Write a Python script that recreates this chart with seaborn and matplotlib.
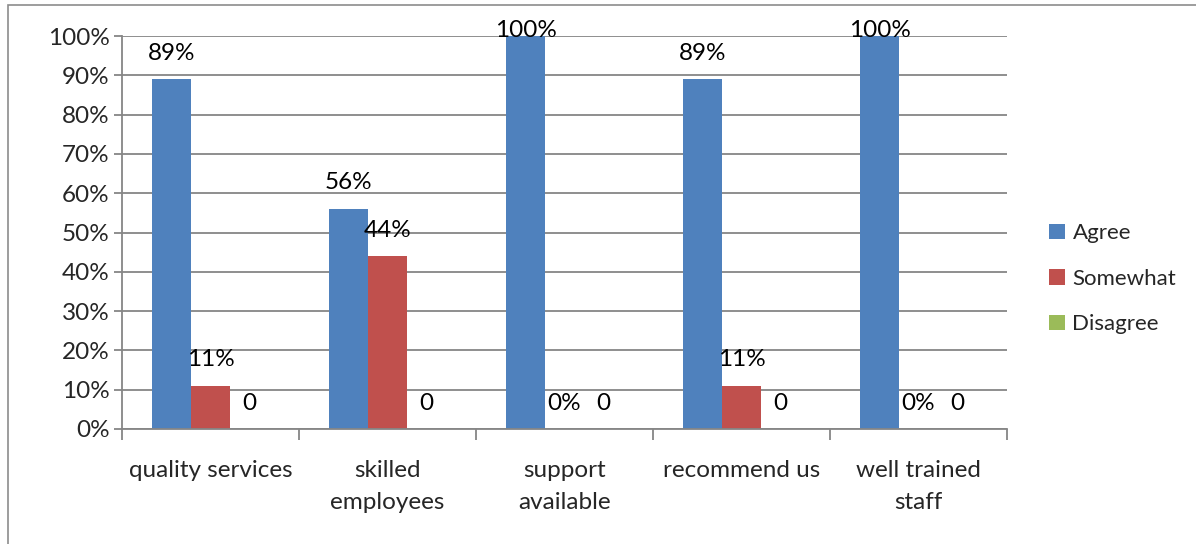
import matplotlib
matplotlib.use("Agg")
import matplotlib.pyplot as plt
import matplotlib.patches as mpatches
from matplotlib.ticker import FixedLocator, PercentFormatter
import seaborn as sns
import pandas as pd

categories = ["quality services", "skilled\nemployees", "support\navailable", "recommend us", "well trained\nstaff"]
series_names = ["Agree", "Somewhat", "Disagree"]
agree = [0.89, 0.56, 1.00, 0.89, 1.00]
somewhat = [0.11, 0.44, 0.00, 0.11, 0.00]
disagree = [0, 0, 0, 0, 0]
colors = ["#4F81BD", "#C0504D", "#9BBB59"]

sns.set_theme(style="white")
plt.rcParams["font.family"] = ["Lato", "DejaVu Sans"]

rows = []
for name, vals in zip(series_names, [agree, somewhat, disagree]):
    for c, v in zip(categories, vals):
        rows.append({"category": c, "series": name, "value": v})
df = pd.DataFrame(rows)

fig = plt.figure(figsize=(11.96, 5.44), dpi=100)
ax = fig.add_axes([0.102, 0.2114, 0.740, 0.7224])

sns.barplot(data=df, x="category", y="value", hue="series", order=categories,
            hue_order=series_names, palette=colors, width=0.66, ax=ax,
            saturation=1, errorbar=None, linewidth=0)

FS = 17.5
ax.set_ylim(0, 1.0)
ax.set_xlim(-0.5, 4.5)
ax.yaxis.set_major_locator(FixedLocator([i / 10 for i in range(11)]))
ax.yaxis.set_major_formatter(PercentFormatter(1.0, decimals=0))
ax.grid(axis="y", color="#868686", linewidth=1.3)
ax.set_axisbelow(True)
for s in ["top", "right"]:
    ax.spines[s].set_visible(False)
for s in ["left", "bottom"]:
    ax.spines[s].set_color("#868686")
    ax.spines[s].set_linewidth(1.3)
ax.tick_params(axis="y", which="major", length=6, color="#868686", width=1.3,
               labelsize=FS, pad=3, left=True)
ax.set_xticks(range(len(categories)))
ax.set_xticklabels(categories, fontsize=FS, linespacing=1.7)
ax.tick_params(axis="x", which="major", length=0, pad=22)
ax.set_xticks([i - 0.5 for i in range(len(categories) + 1)], minor=True)
ax.tick_params(axis="x", which="minor", length=8, color="#868686", width=1.3, bottom=True)
ax.set_xlabel("")
ax.set_ylabel("")

# data labels
for cont, name in zip(ax.containers, series_names):
    for bar in cont:
        h = bar.get_height()
        if name == "Disagree":
            txt = f"{h:g}"
        else:
            txt = f"{h*100:.0f}%"
        y = min(h + 0.066, 1.015)
        ax.text(bar.get_x() + bar.get_width() / 2, y, txt, ha="center", va="center",
                fontsize=FS, color="black", clip_on=False)

leg = ax.legend(loc="center left", bbox_to_anchor=(1.025, 0.382), frameon=False,
                fontsize=16, handlelength=0.7, handleheight=0.7, labelspacing=1.15,
                handletextpad=0.35)

fig.patches.append(mpatches.Rectangle((8 / 1196, -0.01), 1.0, 0.9908 + 0.01,
                                      transform=fig.transFigure, fill=False,
                                      edgecolor="#8c8c8c", linewidth=1.2))

fig.savefig("out.png", dpi=100, facecolor="white")
